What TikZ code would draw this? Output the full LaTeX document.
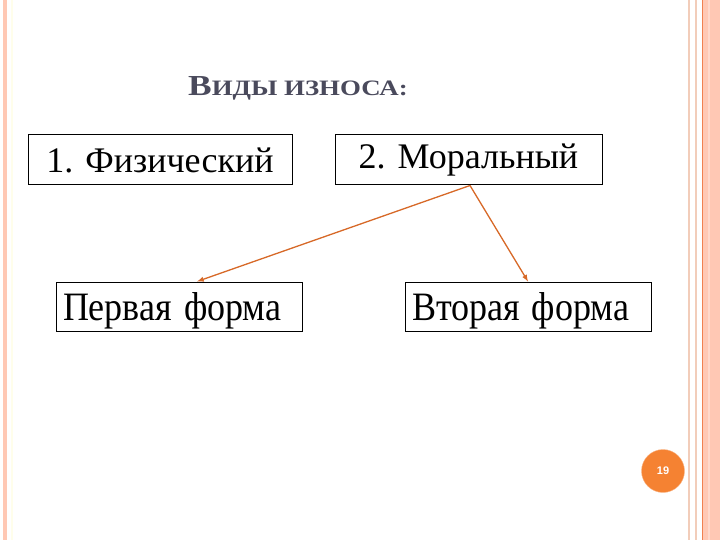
\documentclass[tikz,border=0pt]{standalone}
\usepackage{fontspec}
\setmainfont{Liberation Serif}
\setsansfont{Liberation Sans}
\usepackage{tikz}
\usetikzlibrary{shapes, arrows, calc}

\definecolor{salmon}{RGB}{255,200,180}
\definecolor{paleline}{RGB}{242,205,186}
\definecolor{darkline}{RGB}{240,128,80}
\definecolor{arrowcol}{RGB}{215,105,40}
\definecolor{pagecol}{RGB}{245,130,50}
\definecolor{titlecol}{RGB}{74,74,92}

\tikzset{
  kind/.style={rectangle, draw, line width=1pt, minimum height=50pt, inner sep=0pt,
    font=\fontsize{36}{40}\selectfont},
  form/.style={kind, minimum height=49pt, text width=232pt, align=left, text depth=0pt},
  link/.style={->, >=latex, draw=arrowcol, fill=arrowcol, line width=1.3pt}
}

\begin{document}
\begin{tikzpicture}[x=1pt, y=-1pt]
		\useasboundingbox (0,0) rectangle (720,540);
		% borders
		\fill[salmon] (3,0) rectangle (7,540);
		\fill[yellow!8] (11,0) rectangle (13,540);
		\fill[paleline] (688,0) rectangle (690,540);
		\fill[paleline] (695,0) rectangle (697,540);
		\fill[salmon] (702,0) rectangle (720,540);
		\fill[salmon!70] (708,0) rectangle (710,540);
		\draw[darkline, line width=1pt] (702.5,0) -- (702.5,540);
		% title
		\node[anchor=base west, text=titlecol, inner sep=0pt] (title) at (188,96)
			{\scalebox{1.22}[1]{\fontsize{29}{32}\selectfont\textbf{В\fontsize{22}{26}\selectfont ИДЫ ИЗНОСА:}}};
		% boxes
		\node at (160,160) [kind, minimum width=264pt] (phys) {1. Физический};
		\node at (468.5,160) [kind, minimum width=267pt] (moral) {2. Моральный};
		\node at (179,306.5) [form, minimum width=246pt] (first) {\scalebox{1}[1.12]{Первая форма}};
		\node at (528,306.5) [form, minimum width=246pt] (second) {\scalebox{1}[1.12]{Вторая форма}};
		\draw[link] ($(moral.south)+(1.5,0)$) -- ($(first.north)+(18,0)$);
		\draw[link] ($(moral.south)+(1.5,0)$) -- (second.north);
		% page number
		\node at (663,471) [circle, fill=pagecol, draw=pagecol!60, minimum size=43pt, inner sep=0pt,
			text=white, font=\sffamily\bfseries\fontsize{11}{13}\selectfont] (page) {19};
\end{tikzpicture}
\end{document}
